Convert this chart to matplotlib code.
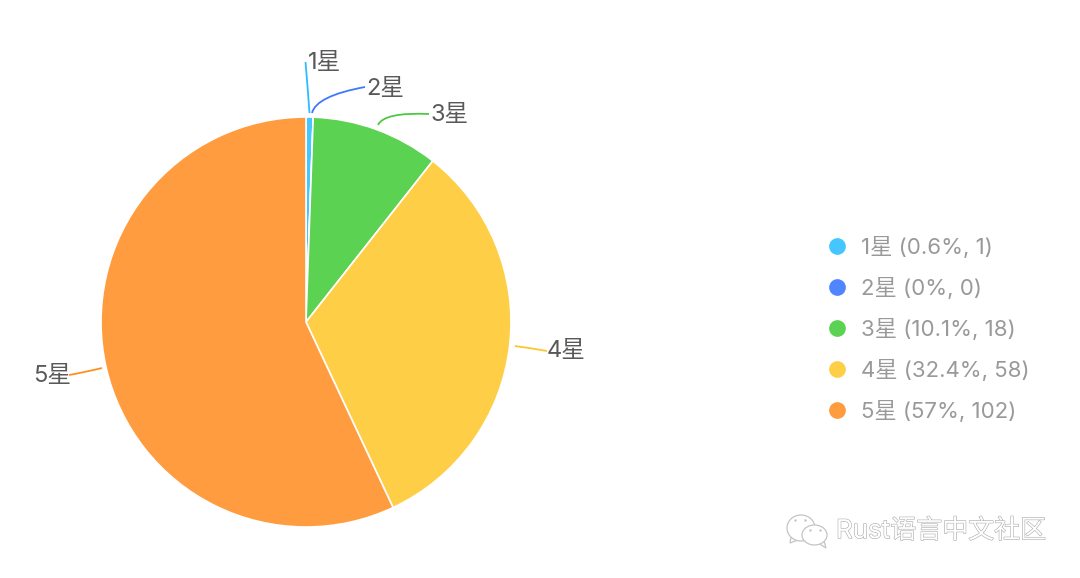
import matplotlib
matplotlib.use("Agg")
import matplotlib.patheffects as pe
import matplotlib.pyplot as plt
from matplotlib.patches import Ellipse, PathPatch, Polygon
from matplotlib.path import Path

labels = ["1星", "2星", "3星", "4星", "5星"]
counts = [1, 0, 18, 58, 102]
percents = ["0.6%", "0%", "10.1%", "32.4%", "57%"]
colors = ["#45c6ff", "#4f86ff", "#5bd252", "#ffce47", "#ff9c3f"]
line_colors = ["#2cbcff", "#3f78ff", "#4cc943", "#ffc62e", "#ff9020"]

W, H = 1080, 578
plt.rcParams["font.family"] = ["Inter", "Noto Sans CJK SC", "DejaVu Sans"]

fig = plt.figure(figsize=(W / 100, H / 100), dpi=100)
ax = fig.add_axes([0, 0, 1, 1])


def py(y):
    # picture coordinates have y going down
    return H - y


center = (306, py(322))
wedges, _ = ax.pie(
    counts,
    colors=colors,
    startangle=90,
    counterclock=False,
    radius=205,
    center=center,
    frame=True,
    wedgeprops={"edgecolor": "white", "linewidth": 1.2},
)

# leader lines: (start, control, end) in picture coordinates
leaders = [
    ((309.5, 113), (307.5, 85), (305.5, 62)),
    ((312, 113), (316, 96), (365, 87)),
    ((378, 125), (384, 112), (429, 114)),
    ((515, 346), (530, 348), (547, 351)),
    ((102, 368), (86, 372), (69, 375)),
]
for (p0, p1, p2), c in zip(leaders, line_colors):
    verts = [(p0[0], py(p0[1])), (p1[0], py(p1[1])), (p2[0], py(p2[1]))]
    ax.add_patch(PathPatch(Path(verts, [Path.MOVETO, Path.CURVE3, Path.CURVE3]),
                           fill=False, edgecolor=c, linewidth=1.3))

label_pos = [(308, 63), (366, 89), (430, 115), (547, 351), (33, 376)]
for text, (x, y) in zip(labels, label_pos):
    ax.text(x, py(y), text, fontsize=17, color="#595959", ha="left", va="center")

# legend
legend_y = [246, 287, 328, 369, 410]
for lab, pct, n, c, y in zip(labels, percents, counts, colors, legend_y):
    ax.scatter([836.5], [py(y)], s=145, color=c, linewidths=0)
    ax.text(861, py(y + 1), f"{lab} ({pct}, {n})", fontsize=16, color="#999999",
            ha="left", va="center")

# watermark
ax.text(836, py(531), "Rust语言中文社区", fontsize=18.7, color="white", ha="left", va="center",
        path_effects=[pe.withStroke(linewidth=0.8, foreground="#a8a8a8")])
for xy, w, h, tail in [
    ((801, py(528)), 28, 26, [(791, py(537)), (790, py(543)), (798, py(540))]),
    ((814.5, py(535)), 25, 20, [(818, py(543)), (826, py(548)), (824, py(541))]),
]:
    ax.add_patch(Polygon(tail, facecolor="white", edgecolor="#c4c4c4", linewidth=0.9, zorder=4))
    ax.add_patch(Ellipse(xy, w, h, facecolor="white", edgecolor="#c4c4c4", linewidth=0.9, zorder=4))
for x, y in [(795, 520), (805, 520), (810, 530), (820, 530)]:
    ax.scatter([x], [py(y)], s=3, color="#c4c4c4", linewidths=0, zorder=5)

ax.set_xlim(0, W)
ax.set_ylim(0, H)
ax.set_aspect("equal")
ax.axis("off")

fig.savefig("out.png", dpi=100, facecolor="white")
plt.close(fig)
